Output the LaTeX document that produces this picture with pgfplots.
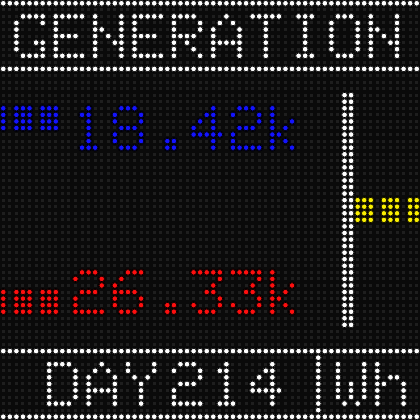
\documentclass[border=0pt]{standalone}
\usepackage{pgfplots}
\usepackage{pgfplotstable}
\pgfplotsset{compat=1.18}
\definecolor{bg}{RGB}{10,10,10}
\definecolor{dimled}{RGB}{30,30,30}
\definecolor{ledblue}{RGB}{20,20,255}
\definecolor{ledred}{RGB}{255,15,15}
\definecolor{ledyellow}{RGB}{250,240,0}
\definecolor{ledwhite}{RGB}{255,255,255}
% x = LED column, y = LED row (from top)
\pgfplotstableread[row sep=\\]{x y\\
0 0\\1 0\\2 0\\3 0\\4 0\\5 0\\6 0\\7 0\\8 0\\9 0\\10 0\\11 0\\12 0\\13 0\\14 0\\15 0\\16 0\\17 0\\18 0\\19 0\\20 0\\21 0\\22 0\\23 0\\24 0\\25 0\\26 0\\27 0\\28 0\\29 0\\30 0\\31 0\\
32 0\\33 0\\34 0\\35 0\\36 0\\37 0\\38 0\\39 0\\40 0\\41 0\\42 0\\43 0\\44 0\\45 0\\46 0\\47 0\\48 0\\49 0\\50 0\\51 0\\52 0\\53 0\\54 0\\55 0\\56 0\\57 0\\58 0\\59 0\\60 0\\61 0\\62 0\\63 0\\
0 10\\1 10\\2 10\\3 10\\4 10\\5 10\\6 10\\7 10\\8 10\\9 10\\10 10\\11 10\\12 10\\13 10\\14 10\\15 10\\16 10\\17 10\\18 10\\19 10\\20 10\\21 10\\22 10\\23 10\\24 10\\25 10\\26 10\\27 10\\28 10\\29 10\\30 10\\31 10\\
32 10\\33 10\\34 10\\35 10\\36 10\\37 10\\38 10\\39 10\\40 10\\41 10\\42 10\\43 10\\44 10\\45 10\\46 10\\47 10\\48 10\\49 10\\50 10\\51 10\\52 10\\53 10\\54 10\\55 10\\56 10\\57 10\\58 10\\59 10\\60 10\\61 10\\62 10\\63 10\\
0 53\\1 53\\2 53\\3 53\\4 53\\5 53\\6 53\\7 53\\8 53\\9 53\\10 53\\11 53\\12 53\\13 53\\14 53\\15 53\\16 53\\17 53\\18 53\\19 53\\20 53\\21 53\\22 53\\23 53\\24 53\\25 53\\26 53\\27 53\\28 53\\29 53\\30 53\\31 53\\
32 53\\33 53\\34 53\\35 53\\36 53\\37 53\\38 53\\39 53\\40 53\\41 53\\42 53\\43 53\\44 53\\45 53\\46 53\\47 53\\48 53\\49 53\\50 53\\51 53\\52 53\\53 53\\54 53\\55 53\\56 53\\57 53\\58 53\\59 53\\60 53\\61 53\\62 53\\63 53\\
0 63\\1 63\\2 63\\3 63\\4 63\\5 63\\6 63\\7 63\\8 63\\9 63\\10 63\\11 63\\12 63\\13 63\\14 63\\15 63\\16 63\\17 63\\18 63\\19 63\\20 63\\21 63\\22 63\\23 63\\24 63\\25 63\\26 63\\27 63\\28 63\\29 63\\30 63\\31 63\\
32 63\\33 63\\34 63\\35 63\\36 63\\37 63\\38 63\\39 63\\40 63\\41 63\\42 63\\43 63\\44 63\\45 63\\46 63\\47 63\\48 63\\49 63\\50 63\\51 63\\52 63\\53 63\\54 63\\55 63\\56 63\\57 63\\58 63\\59 63\\60 63\\61 63\\62 63\\63 63\\
52 14\\53 14\\52 15\\53 15\\52 16\\53 16\\52 17\\53 17\\52 18\\53 18\\52 19\\53 19\\52 20\\53 20\\52 21\\53 21\\52 22\\53 22\\52 23\\53 23\\52 24\\53 24\\52 25\\53 25\\
52 26\\53 26\\52 27\\53 27\\52 28\\53 28\\52 29\\53 29\\52 30\\53 30\\52 31\\53 31\\52 32\\53 32\\52 33\\53 33\\52 34\\53 34\\52 35\\53 35\\52 36\\53 36\\52 37\\53 37\\
52 38\\53 38\\52 39\\53 39\\52 40\\53 40\\52 41\\53 41\\52 42\\53 42\\52 43\\53 43\\52 44\\53 44\\52 45\\53 45\\52 46\\53 46\\52 47\\53 47\\52 48\\53 48\\52 49\\53 49\\
48 54\\48 55\\48 56\\48 57\\48 58\\48 59\\48 60\\48 61\\48 62\\
3 2\\4 2\\5 2\\6 2\\2 3\\6 3\\2 4\\2 5\\2 6\\5 6\\6 6\\2 7\\6 7\\3 8\\4 8\\5 8\\6 8\\
8 2\\9 2\\10 2\\11 2\\12 2\\8 3\\8 4\\8 5\\9 5\\10 5\\11 5\\8 6\\8 7\\8 8\\9 8\\10 8\\11 8\\12 8\\
14 2\\18 2\\14 3\\18 3\\14 4\\15 4\\18 4\\14 5\\16 5\\18 5\\14 6\\17 6\\18 6\\14 7\\18 7\\14 8\\18 8\\
20 2\\21 2\\22 2\\23 2\\24 2\\20 3\\20 4\\20 5\\21 5\\22 5\\23 5\\20 6\\20 7\\20 8\\21 8\\22 8\\23 8\\24 8\\
26 2\\27 2\\28 2\\29 2\\26 3\\30 3\\26 4\\30 4\\26 5\\27 5\\28 5\\29 5\\26 6\\28 6\\26 7\\29 7\\26 8\\30 8\\
34 2\\33 3\\35 3\\32 4\\36 4\\32 5\\36 5\\32 6\\33 6\\34 6\\35 6\\36 6\\32 7\\36 7\\32 8\\36 8\\
38 2\\39 2\\40 2\\41 2\\42 2\\40 3\\40 4\\40 5\\40 6\\40 7\\40 8\\
45 2\\46 2\\47 2\\46 3\\46 4\\46 5\\46 6\\46 7\\45 8\\46 8\\47 8\\
51 2\\52 2\\53 2\\50 3\\54 3\\50 4\\54 4\\50 5\\54 5\\50 6\\54 6\\50 7\\54 7\\51 8\\52 8\\53 8\\
56 2\\60 2\\56 3\\60 3\\56 4\\57 4\\60 4\\56 5\\58 5\\60 5\\56 6\\59 6\\60 6\\56 7\\60 7\\56 8\\60 8\\
7 55\\8 55\\9 55\\10 55\\7 56\\11 56\\7 57\\11 57\\7 58\\11 58\\7 59\\11 59\\7 60\\11 60\\7 61\\8 61\\9 61\\10 61\\
15 55\\14 56\\16 56\\13 57\\17 57\\13 58\\17 58\\13 59\\14 59\\15 59\\16 59\\17 59\\13 60\\17 60\\13 61\\17 61\\
19 55\\23 55\\19 56\\23 56\\20 57\\22 57\\21 58\\21 59\\21 60\\21 61\\
27 55\\28 55\\29 55\\26 56\\30 56\\30 57\\27 58\\28 58\\29 58\\26 59\\26 60\\26 61\\27 61\\28 61\\29 61\\30 61\\
34 55\\33 56\\34 56\\34 57\\34 58\\34 59\\34 60\\33 61\\34 61\\35 61\\
41 55\\40 56\\41 56\\39 57\\41 57\\38 58\\41 58\\38 59\\39 59\\40 59\\41 59\\42 59\\41 60\\41 61\\
51 55\\55 55\\51 56\\55 56\\51 57\\55 57\\51 58\\53 58\\55 58\\51 59\\53 59\\55 59\\51 60\\53 60\\55 60\\52 61\\54 61\\
57 55\\57 56\\57 57\\59 57\\60 57\\57 58\\58 58\\61 58\\57 59\\61 59\\57 60\\61 60\\57 61\\61 61\\
}\whiteleds
\pgfplotstableread[row sep=\\]{x y\\
0 16\\2 16\\3 16\\4 16\\6 16\\7 16\\8 16\\0 17\\2 17\\3 17\\4 17\\6 17\\7 17\\8 17\\
0 18\\2 18\\3 18\\4 18\\6 18\\7 18\\8 18\\0 19\\2 19\\3 19\\4 19\\6 19\\7 19\\8 19\\
13 16\\12 17\\13 17\\13 18\\13 19\\13 20\\13 21\\12 22\\13 22\\14 22\\
18 16\\19 16\\20 16\\17 17\\21 17\\17 18\\21 18\\18 19\\19 19\\20 19\\17 20\\21 20\\17 21\\21 21\\18 22\\19 22\\20 22\\
25 21\\26 21\\25 22\\26 22\\
32 16\\31 17\\32 17\\30 18\\32 18\\29 19\\32 19\\29 20\\30 20\\31 20\\32 20\\33 20\\32 21\\32 22\\
36 16\\37 16\\38 16\\35 17\\39 17\\39 18\\36 19\\37 19\\38 19\\35 20\\35 21\\35 22\\36 22\\37 22\\38 22\\39 22\\
41 16\\41 17\\41 18\\44 18\\41 19\\43 19\\41 20\\42 20\\41 21\\43 21\\41 22\\44 22\\
}\blueleds
\pgfplotstableread[row sep=\\]{x y\\
0 44\\2 44\\3 44\\4 44\\6 44\\7 44\\8 44\\0 45\\2 45\\3 45\\4 45\\6 45\\7 45\\8 45\\
0 46\\2 46\\3 46\\4 46\\6 46\\7 46\\8 46\\0 47\\2 47\\3 47\\4 47\\6 47\\7 47\\8 47\\
12 41\\13 41\\14 41\\11 42\\15 42\\15 43\\12 44\\13 44\\14 44\\11 45\\11 46\\11 47\\12 47\\13 47\\14 47\\15 47\\
19 41\\20 41\\21 41\\18 42\\17 43\\17 44\\18 44\\19 44\\20 44\\17 45\\21 45\\17 46\\21 46\\18 47\\19 47\\20 47\\
25 46\\26 46\\25 47\\26 47\\
29 41\\30 41\\31 41\\32 41\\33 41\\33 42\\32 43\\31 44\\32 44\\33 45\\29 46\\33 46\\30 47\\31 47\\32 47\\
35 41\\36 41\\37 41\\38 41\\39 41\\39 42\\38 43\\37 44\\38 44\\39 45\\35 46\\39 46\\36 47\\37 47\\38 47\\
41 41\\41 42\\41 43\\44 43\\41 44\\43 44\\41 45\\42 45\\41 46\\43 46\\41 47\\44 47\\
}\redleds
\pgfplotstableread[row sep=\\]{x y\\
54 30\\55 30\\56 30\\58 30\\59 30\\60 30\\62 30\\63 30\\
54 31\\55 31\\56 31\\58 31\\59 31\\60 31\\62 31\\63 31\\
54 32\\55 32\\56 32\\58 32\\59 32\\60 32\\62 32\\63 32\\
54 33\\55 33\\56 33\\58 33\\59 33\\60 33\\62 33\\63 33\\
}\yellowleds
\begin{document}
\begin{tikzpicture}
\begin{axis}[name=ax,
  scale only axis, width=10cm, height=10cm,
  xmin=-0.5, xmax=63.5, ymin=-0.5, ymax=63.5, y dir=reverse,
  axis background/.style={fill=bg},
  axis line style={draw=none},
  xtick={0,...,63}, ytick=\empty, xticklabels={},
  major tick length=0pt, tick style={draw=none},
  xmajorgrids=true, ymajorgrids=false,
  grid style={dimled, line width=2pt, dash pattern=on 2pt off 2.4457pt, dash phase=3.2229pt},
  clip=false]
\addplot[only marks, mark=*, mark size=2.6pt, mark options={draw=none, fill=ledwhite, fill opacity=0.3}] table {\whiteleds};
\addplot[only marks, mark=*, mark size=1.9pt, mark options={draw=none, fill=ledwhite}] table {\whiteleds};
\addplot[only marks, mark=*, mark size=2.5pt, mark options={draw=none, fill=ledblue, fill opacity=0.3}] table {\blueleds};
\addplot[only marks, mark=*, mark size=1.85pt, mark options={draw=none, fill=ledblue}] table {\blueleds};
\addplot[only marks, mark=*, mark size=2.5pt, mark options={draw=none, fill=ledred, fill opacity=0.3}] table {\redleds};
\addplot[only marks, mark=*, mark size=1.85pt, mark options={draw=none, fill=ledred}] table {\redleds};
\addplot[only marks, mark=*, mark size=2.5pt, mark options={draw=none, fill=ledyellow, fill opacity=0.3}] table {\yellowleds};
\addplot[only marks, mark=*, mark size=1.85pt, mark options={draw=none, fill=ledyellow}] table {\yellowleds};
\end{axis}
\pgfresetboundingbox
\path[use as bounding box] (ax.south west) rectangle (ax.north east);
\end{tikzpicture}
\end{document}
